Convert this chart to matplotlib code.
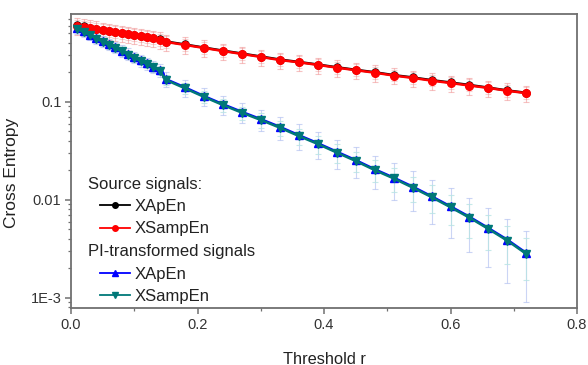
import matplotlib
matplotlib.use("Agg")
import matplotlib.pyplot as plt
from matplotlib.lines import Line2D
from matplotlib.ticker import FixedLocator, LogLocator, NullFormatter, MultipleLocator

plt.rcParams['font.family'] = ['Liberation Sans', 'DejaVu Sans']

threshold_r = [0.01, 0.02, 0.03, 0.04, 0.05, 0.06, 0.07, 0.08, 0.09, 0.10,
               0.11, 0.12, 0.13, 0.14, 0.15, 0.18, 0.21, 0.24, 0.27, 0.30,
               0.33, 0.36, 0.39, 0.42, 0.45, 0.48, 0.51, 0.54, 0.57, 0.60,
               0.63, 0.66, 0.69, 0.72]

src_xapen = [.604, .589, .575, .561, .547, .534, .521, .508, .496, .484, .472, .461,
             .450, .436, .414, .386, .359, .334, .312, .291, .271, .256, .241, .226,
             .213, .201, .188, .178, .167, .158, .149, .140, .131, .124]
src_xapen_err = [.085, .082, .080, .079, .077, .075, .073, .071, .069, .068, .066, .065,
                 .063, .061, .058, .054, .050, .047, .044, .041, .038, .036, .034, .032,
                 .030, .028, .026, .025, .023, .022, .021, .020, .018, .017]

src_xsampen = [.600, .585, .571, .557, .543, .530, .517, .504, .492, .480, .468, .457,
               .446, .432, .410, .382, .356, .331, .309, .288, .268, .254, .239, .224,
               .211, .199, .186, .176, .165, .156, .147, .139, .130, .123]
src_xsampen_err = [.114, .111, .108, .106, .103, .101, .098, .096, .093, .091, .089, .087,
                   .085, .082, .078, .073, .068, .063, .059, .055, .051, .048, .045, .043,
                   .040, .038, .035, .033, .031, .030, .028, .026, .025, .023]

pi_xapen = [.565, .525, .488, .452, .419, .389, .361, .335, .311, .288, .267, .248,
            .230, .213, .171, .141, .115, .0950, .0793, .0668, .0558, .0459, .0380,
            .0311, .0255, .0206, .0169, .0137, .0109, .00860, .00673, .00516, .00392,
            .00287]
pi_xapen_err = [.068, .063, .059, .057, .052, .051, .047, .044, .042, .039, .037, .035,
                .033, .032, .029, .028, .024, .021, .018, .0167, .0151, .0133, .0118,
                .0103, .0089, .0078, .0069, .0060, .0052, .0045, .0038, .0031, .0025,
                .00195]

pi_xsampen = [.556, .515, .479, .444, .411, .382, .354, .328, .305, .282, .262, .243,
              .225, .209, .168, .138, .113, .0932, .0778, .0655, .0547, .0450, .0373,
              .0305, .0250, .0202, .0166, .0134, .0107, .00843, .00660, .00506, .00384,
              .00281]
pi_xsampen_err = [.044, .041, .038, .037, .034, .033, .031, .029, .027, .025, .024, .023,
                  .021, .021, .019, .018, .016, .0137, .0117, .0109, .0098, .0086, .0077,
                  .0067, .0058, .0051, .0045, .0039, .0034, .0029, .0025, .0020, .0016,
                  .0013]

x_ticks = [0.0, 0.2, 0.4, 0.6, 0.8]
x_tick_labels = ["0.0", "0.2", "0.4", "0.6", "0.8"]
y_ticks = [1e-3, 1e-2, 1e-1]
y_tick_labels = ["1E-3", "0.01", "0.1"]

W, H = 588, 365
fig = plt.figure(figsize=(W / 100, H / 100), dpi=100)
ax = fig.add_axes([71 / W, 1 - 308 / H, (577 - 71) / W, (308 - 14) / H])

ax.set_yscale('log')
ax.set_xlim(0, 0.8)
ax.set_ylim(7.9e-4, 0.79)

# error bars (drawn first, faint)
ax.errorbar(threshold_r, src_xapen, yerr=src_xapen_err, fmt='none', ecolor='#f4b0b0',
            elinewidth=0.8, capsize=2.2, capthick=0.8, alpha=0.55, zorder=1)
ax.errorbar(threshold_r, src_xsampen, yerr=src_xsampen_err, fmt='none', ecolor='#f09090',
            elinewidth=0.8, capsize=2.2, capthick=0.8, alpha=0.55, zorder=1)
ax.errorbar(threshold_r, pi_xapen, yerr=pi_xapen_err, fmt='none', ecolor='#b0bff0',
            elinewidth=0.8, capsize=2.2, capthick=0.8, alpha=0.65, zorder=1)
ax.errorbar(threshold_r, pi_xsampen, yerr=pi_xsampen_err, fmt='none', ecolor='#b8e4e4',
            elinewidth=0.8, capsize=2.2, capthick=0.8, alpha=0.8, zorder=1)

# lines with markers
ax.plot(threshold_r, src_xapen, color='black', marker='o', ms=5, lw=1.8, zorder=3)
ax.plot(threshold_r, src_xsampen, color='#ff0000', marker='o', ms=5.5, lw=1.8, zorder=4)
ax.plot(threshold_r, pi_xapen, color='#0000ff', marker='^', ms=5.5, lw=1.8, zorder=3)
ax.plot(threshold_r, pi_xsampen, color='#007878', marker='v', ms=5.5, lw=1.8, zorder=4)

# axes styling
for s in ax.spines.values():
    s.set_color('#707070')
    s.set_linewidth(1.3)
ax.xaxis.set_major_locator(FixedLocator(x_ticks))
ax.set_xticklabels(x_tick_labels)
ax.xaxis.set_minor_locator(MultipleLocator(0.1))
ax.yaxis.set_major_locator(FixedLocator(y_ticks))
ax.set_yticklabels(y_tick_labels)
ax.yaxis.set_minor_locator(LogLocator(base=10, subs=range(2, 10)))
ax.yaxis.set_minor_formatter(NullFormatter())
ax.tick_params(which='major', direction='out', length=4, width=1.1, color='#707070',
               labelsize=10.5, labelcolor='#333333', pad=3)
ax.tick_params(which='minor', direction='out', length=2.5, width=0.9, color='#707070')

ax.set_xlabel("Threshold r", fontsize=11.8, color='#222222')
ax.set_ylabel("Cross Entropy", fontsize=12.5, color='#222222')
ax.xaxis.set_label_coords(0.5, -0.148)
ax.yaxis.set_label_coords(-0.102, 0.458)

# legend
blank = Line2D([], [], linestyle='none', marker=None)
handles = [
    blank,
    Line2D([], [], color='black', marker='o', ms=4, lw=1.3),
    Line2D([], [], color='#ff0000', marker='o', ms=4, lw=1.3),
    blank,
    Line2D([], [], color='#0000ff', marker='^', ms=4.5, lw=1.3),
    Line2D([], [], color='#007878', marker='v', ms=4.5, lw=1.3),
]
labels = ["Source signals:", "XApEn", "XSampEn", "PI-transformed signals", "XApEn", "XSampEn"]
leg = ax.legend(handles, labels, loc='upper left', frameon=False, fontsize=12,
                handlelength=1.8, handletextpad=0.3, labelspacing=0.45,
                borderaxespad=0, borderpad=0,
                bbox_to_anchor=((100 - 71) / (577 - 71), (308 - 176.5) / (308 - 14)))
for t in leg.get_texts():
    t.set_color('#222222')

fig.canvas.draw()
for i in (0, 3):
    t = leg.get_texts()[i]
    bb = t.get_window_extent()
    yc = (bb.y0 + bb.y1) / 2
    t.set_visible(False)
    fig.text(88 / W, yc / H, labels[i], fontsize=12, color='#222222', va='center', ha='left')

fig.savefig("out.png", dpi=100)
